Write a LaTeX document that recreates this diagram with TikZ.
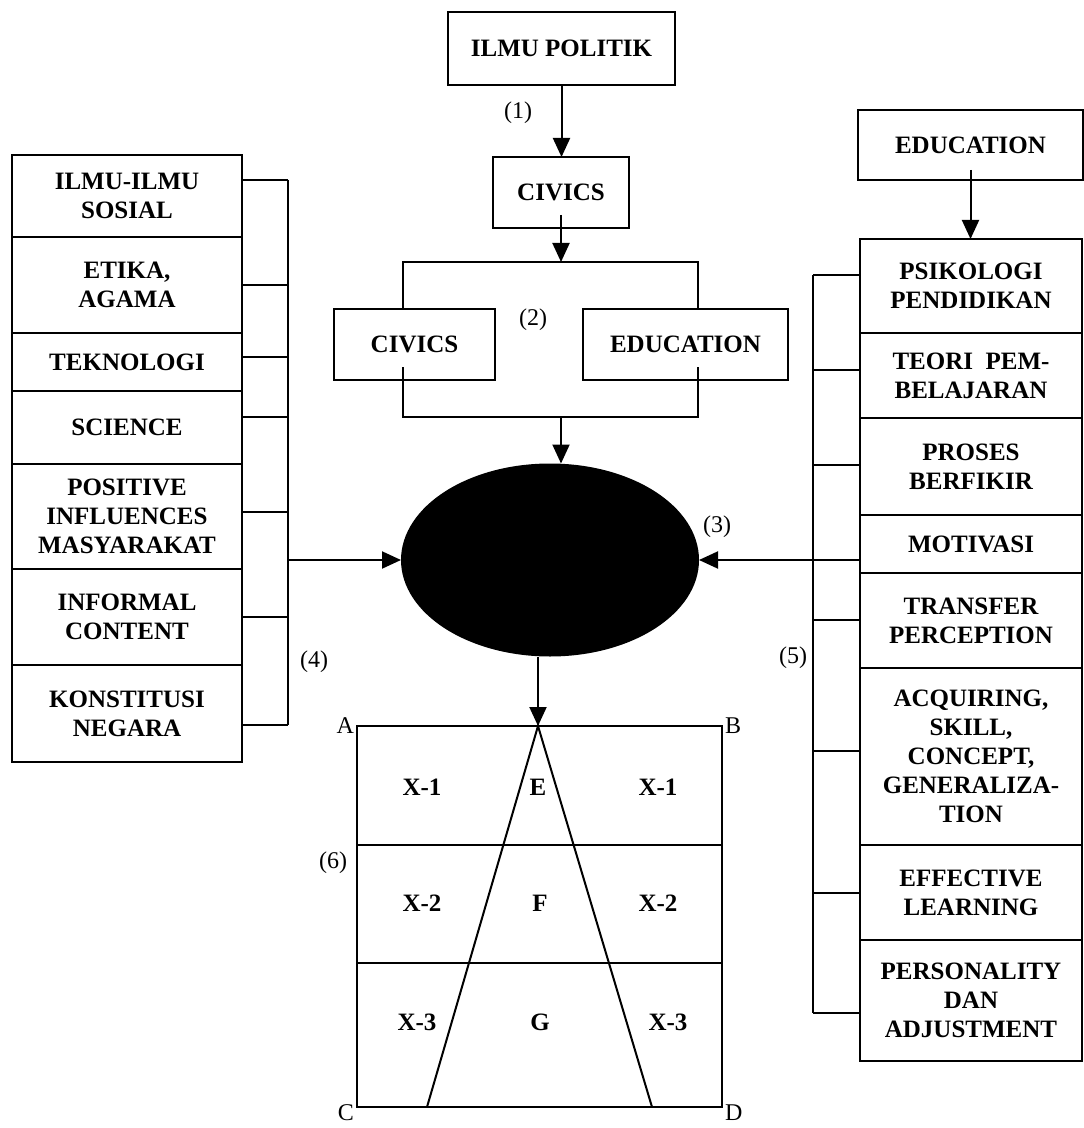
\documentclass[tikz,border=0pt]{standalone}
\usepackage{fontspec}
\setmainfont{Liberation Serif}
\usetikzlibrary{positioning,shapes.geometric,arrows.meta}

\begin{document}
\begin{tikzpicture}[
    x=0.5pt, y=-0.5pt,
    line width=1pt,
    cell/.style={draw, inner sep=0pt, outer sep=0pt, align=center,
        font=\fontsize{12.5}{14.5}\selectfont\bfseries},
    leftcell/.style={cell, minimum width=115pt},
    rightcell/.style={cell, minimum width=111pt},
    tag/.style={font=\fontsize{12}{14}\selectfont, inner sep=1pt},
    >={Triangle[length=9.5pt,width=8.5pt]}
]
\useasboundingbox (0,0) rectangle (1083,1128);

% Top chain
\node[cell, minimum width=113.5pt, minimum height=36.5pt] (politik) at (561.5,48.5) {ILMU POLITIK};
\node[cell, minimum width=68pt, minimum height=35.5pt] (civics) at (561,192.5) {CIVICS};
\node[cell, minimum width=80.5pt, minimum height=35.5pt] (civicsb) at (414.5,344.5) {CIVICS};
\node[cell, minimum width=102.5pt, minimum height=35.5pt] (educb) at (685.5,344.5) {EDUCATION};

\node[ellipse, fill=black, draw, inner sep=0pt, minimum width=148pt, minimum height=95.5pt] (core) at (550,560) {};

\coordinate (spl) at (403,262);
\coordinate (spr) at (698,262);
\coordinate (jnl) at (403,417);
\coordinate (jnr) at (698,417);

\draw[->] (politik.south) -- (politik.south |- civics.north);
\draw[->] ([yshift=6.5pt]civics.south) -- (civics.south |- spl);
\draw (civicsb.north -| spl) -- (spl) -- (spr) -- (educb.north -| spr);
\draw ([yshift=6.5pt]civicsb.south -| jnl) -- (jnl) -- (jnr) -- ([yshift=6.5pt]educb.south -| jnr);
\draw[->] (jnl -| civics.south) -- (civics.south |- core.north);

\node[tag] (one)   at (518,113) {(1)};
\node[tag] (two)   at (533,320) {(2)};
\node[tag] (three) at (717,527) {(3)};

% Left side
\node[leftcell, minimum height=41pt] (ilmu) at (127,196) {ILMU-ILMU\\SOSIAL};
\node[leftcell, minimum height=48pt, below=0pt of ilmu] (etika) {ETIKA,\\AGAMA};
\node[leftcell, minimum height=29pt, below=0pt of etika] (tekno) {TEKNOLOGI};
\node[leftcell, minimum height=36.5pt, below=0pt of tekno] (science) {SCIENCE};
\node[leftcell, minimum height=52.5pt, below=0pt of science] (positive) {POSITIVE\\INFLUENCES\\MASYARAKAT};
\node[leftcell, minimum height=48pt, below=0pt of positive] (informal) {INFORMAL\\CONTENT};
\node[leftcell, minimum height=48.5pt, below=0pt of informal] (konst) {KONSTITUSI\\NEGARA};

\coordinate (lbartop) at (288,180);
\coordinate (lbarbot) at (288,725);
\draw (lbartop) -- (lbarbot);
\foreach \n/\y in {ilmu/180, etika/285, tekno/357, science/417, positive/512, informal/617, konst/725}
    \draw (\n.east |- 0,\y) -- (lbartop |- 0,\y);
\draw[->] (lbartop |- 0,560) -- (core.west);
\node[tag] (four) at (314,662) {(4)};

% Right side
\node[cell, minimum width=112.5pt, minimum height=35pt] (edutop) at (970.5,145) {EDUCATION};
\node[rightcell, minimum height=47pt] (psiko) at (971,286) {PSIKOLOGI\\PENDIDIKAN};
\node[rightcell, minimum height=42.5pt, below=0pt of psiko] (teori) {TEORI\ \ PEM-\\BELAJARAN};
\node[rightcell, minimum height=48.5pt, below=0pt of teori] (proses) {PROSES\\BERFIKIR};
\node[rightcell, minimum height=29pt, below=0pt of proses] (motivasi) {MOTIVASI};
\node[rightcell, minimum height=47.5pt, below=0pt of motivasi] (transfer) {TRANSFER\\PERCEPTION};
\node[rightcell, minimum height=88.5pt, below=0pt of transfer] (acquiring) {ACQUIRING,\\SKILL,\\CONCEPT,\\GENERALIZA-\\TION};
\node[rightcell, minimum height=47.5pt, below=0pt of acquiring] (effective) {EFFECTIVE\\LEARNING};
\node[rightcell, minimum height=60.5pt, below=0pt of effective] (personality) {PERSONALITY\\DAN\\ADJUSTMENT};

\draw[->] ([yshift=5pt]edutop.south) -- (edutop.south |- psiko.north);

\coordinate (rbartop) at (813,275);
\coordinate (rbarbot) at (813,1013);
\draw (rbartop) -- (rbarbot);
\foreach \n/\y in {psiko/275, teori/370, proses/465, transfer/620, acquiring/751, effective/893, personality/1013}
    \draw (\n.west |- 0,\y) -- (rbartop |- 0,\y);
\draw[->] (motivasi.west |- 0,560) -- (core.east);
\node[tag] (five) at (793,658) {(5)};

% Bottom frame
\coordinate (tl) at (357,726);
\coordinate (tr) at (722,726);
\coordinate (bl) at (357,1107);
\coordinate (br) at (722,1107);
\coordinate (apex) at (538,726);
\coordinate (basel) at (427,1107);
\coordinate (baser) at (652,1107);

\draw[->] (apex |- core.south) -- (apex);
\draw (tl) rectangle (br);
\draw (tl |- 0,845) -- (tr |- 0,845);
\draw (tl |- 0,963) -- (tr |- 0,963);
\draw (basel) -- (apex) -- (baser);

\node[tag, anchor=east] (ca) at (tl) {A};
\node[tag, anchor=west] (cb) at (tr) {B};
\node[tag, anchor=east] (cc) at ([yshift=-3pt]bl) {C};
\node[tag, anchor=west] (cd) at ([yshift=-3pt]br) {D};
\node[tag] (six) at (333,863) {(6)};

\node[cell, draw=none] (xal) at (422,787) {X-1};
\node[cell, draw=none] (e)   at (538,787) {E};
\node[cell, draw=none] (xar) at (658,787) {X-1};
\node[cell, draw=none] (xbl) at (422,903) {X-2};
\node[cell, draw=none] (f)   at (540,903) {F};
\node[cell, draw=none] (xbr) at (658,903) {X-2};
\node[cell, draw=none] (xcl) at (417,1022) {X-3};
\node[cell, draw=none] (g)   at (540,1022) {G};
\node[cell, draw=none] (xcr) at (668,1022) {X-3};
\end{tikzpicture}
\end{document}
